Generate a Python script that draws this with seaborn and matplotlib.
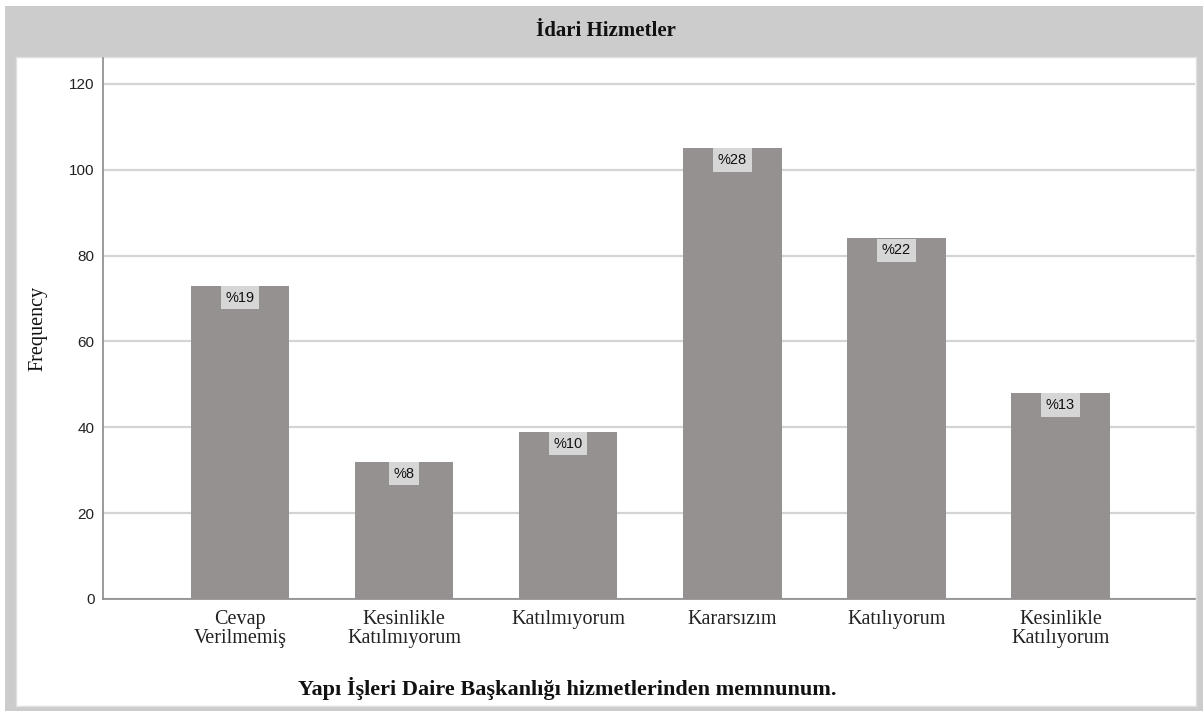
import matplotlib
matplotlib.use("Agg")
import matplotlib.pyplot as plt
import seaborn as sns
import pandas as pd
from matplotlib.patches import Rectangle

categories = ["Cevap\nVerilmemiş", "Kesinlikle\nKatılmıyorum", "Katılmıyorum",
              "Kararsızım", "Katılıyorum", "Kesinlikle\nKatılıyorum"]
frequencies = [73, 32, 39, 105, 84, 48]
percent_labels = ["%19", "%8", "%10", "%28", "%22", "%13"]
yticks = [0, 20, 40, 60, 80, 100, 120]

title = "İdari Hizmetler"
xlabel = "Yapı İşleri Daire Başkanlığı hizmetlerinden memnunum."
ylabel = "Frequency"

sns.set_theme(style="white")
plt.rcParams['font.family'] = ['Liberation Serif', 'DejaVu Serif']

W, H = 1203, 711
fig = plt.figure(figsize=(W / 100, H / 100), dpi=100)
fig.patch.set_facecolor("white")

# outer gray frame and inner white panel
fig.add_artist(Rectangle((5 / W, 0), (W - 5) / W, (H - 6) / H, transform=fig.transFigure,
                         facecolor="#cccccc", edgecolor="none", zorder=0))
fig.add_artist(Rectangle((16 / W, 5 / H), (1196 - 16) / W, (706 - 57) / H,
                         transform=fig.transFigure, facecolor="white",
                         edgecolor="#e0e0e0", linewidth=1, zorder=0.5))
fig.text(606 / W, 1 - 31 / H, title, ha="center", va="center",
         fontsize=15, fontweight="bold", color="#111111",
         family=["Liberation Serif"])

ax = fig.add_axes([103 / W, 1 - 599 / H, (1195 - 103) / W, (599 - 58) / H])
ax.set_zorder(5)
ax.set_facecolor("none")

df = pd.DataFrame({"cat": categories, "freq": frequencies})
sns.barplot(data=df, x="cat", y="freq", color="#959190", saturation=1,
            width=0.6, ax=ax, zorder=3, edgecolor="none")

ax.set_xlim(-0.835, 5.82)
ax.set_ylim(0, 126)
ax.set_yticks(yticks)
ax.set_yticklabels([str(v) for v in yticks], family=["Liberation Sans"],
                   fontsize=11, color="#222222")
ax.yaxis.grid(True, color="#d4d4d4", linewidth=1.6, zorder=0)
ax.xaxis.grid(False)
ax.set_axisbelow(True)
for s in ["top", "right"]:
    ax.spines[s].set_visible(False)
for s in ["left", "bottom"]:
    ax.spines[s].set_color("#8a8a8a")
    ax.spines[s].set_linewidth(1.2)
ax.tick_params(axis="both", length=0, pad=6)
ax.tick_params(axis="x", pad=8)
for lab in ax.get_xticklabels():
    lab.set_fontsize(14.5)
    lab.set_color("#222222")
    lab.set_family(["Liberation Serif"])
    lab.set_linespacing(1.02)
    lab.set_va("top")

ax.set_xlabel(xlabel, fontsize=16, fontweight="bold", color="#111111",
              family=["Liberation Serif"])
ax.xaxis.set_label_coords((567 - 103) / 1092, -(688 - 599) / 541)
ax.xaxis.label.set_va("center")
ax.set_ylabel(ylabel, fontsize=14.5, family=["Liberation Serif"], color="#111111")
ax.yaxis.set_label_coords(-(103 - 38) / 1092, 0.5)
ax.yaxis.label.set_va("center")

for i, (v, lab) in enumerate(zip(frequencies, percent_labels)):
    ax.annotate(lab, xy=(i, v), xytext=(0, -12), textcoords="offset pixels",
                ha="center", va="center", fontsize=10.5, family=["Liberation Sans"],
                color="#111111", zorder=5,
                bbox=dict(boxstyle="square,pad=0.32", facecolor="#d6d6d6",
                          edgecolor="none"))

fig.savefig("out.png", dpi=100)
